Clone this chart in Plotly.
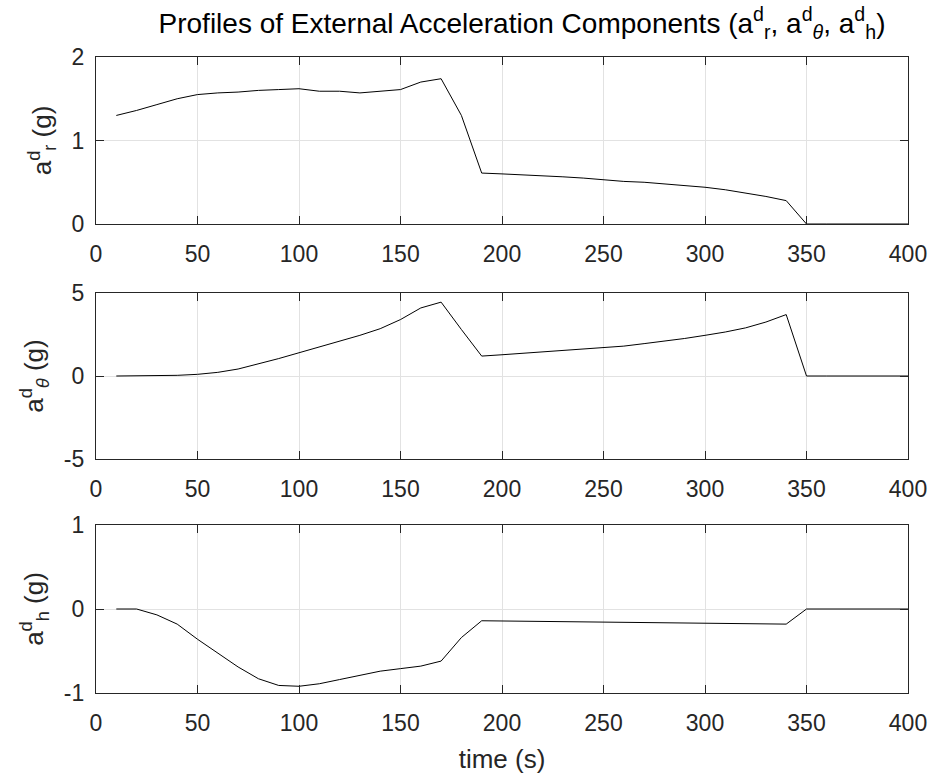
import plotly.graph_objects as go
from plotly.subplots import make_subplots

time_s = [10, 20, 30, 40, 50, 60, 70, 80, 90, 100, 110, 120, 130, 140, 150, 160, 170, 180, 190, 200,
          210, 220, 230, 240, 250, 260, 270, 280, 290, 300, 310, 320, 330, 340, 350, 360, 370, 380, 390, 400]

a_r = [1.30, 1.36, 1.43, 1.50, 1.55, 1.57, 1.58, 1.60, 1.61, 1.62, 1.59, 1.59, 1.57, 1.59, 1.61, 1.70, 1.74, 1.30, 0.61, 0.60,
       0.59, 0.58, 0.565, 0.55, 0.53, 0.51, 0.50, 0.48, 0.46, 0.44, 0.41, 0.37, 0.33, 0.28, 0.0, 0.0, 0.0, 0.0, 0.0, 0.0]

a_theta = [0.0, 0.0, 0.01, 0.04, 0.10, 0.22, 0.42, 0.72, 1.05, 1.40, 1.75, 2.10, 2.45, 2.85, 3.40, 4.10, 4.45, 2.80, 1.20, 1.28,
           1.36, 1.44, 1.52, 1.61, 1.70, 1.80, 1.95, 2.10, 2.26, 2.45, 2.65, 2.90, 3.25, 3.70, 0.0, 0.0, 0.0, 0.0, 0.0, 0.0]

a_h = [0.0, 0.0, -0.07, -0.18, -0.36, -0.53, -0.69, -0.83, -0.91, -0.92, -0.89, -0.84, -0.79, -0.74, -0.71, -0.68, -0.62, -0.34, -0.14, -0.143,
       -0.146, -0.149, -0.152, -0.155, -0.157, -0.159, -0.161, -0.163, -0.165, -0.167, -0.170, -0.173, -0.177, -0.18, 0.0, 0.0, 0.0, 0.0, 0.0, 0.0]

x_ticks = [0, 50, 100, 150, 200, 250, 300, 350, 400]
y_ranges = [[0, 2], [-5, 5], [-1, 1]]
y_ticks = [[0, 1, 2], [-5, 0, 5], [-1, 0, 1]]
y_ticktext = [["0", "1", "2"], ["-5", "0", "5"], ["-1", "0", "1"]]
y_titles = ["a<sup>d</sup><sub>r</sub> (g)", "a<sup>d</sup><sub><i>θ</i></sub> (g)", "a<sup>d</sup><sub>h</sub> (g)"]
title_text = ("Profiles of External Acceleration Components (a<sup>d</sup><sub>r</sub>, "
              "a<sup>d</sup><sub><i>θ</i></sub>, a<sup>d</sup><sub>h</sub>)")

FONT = "Liberation Sans, Arial, sans-serif"
TXT = "#262626"

fig = make_subplots(rows=3, cols=1)
for i, ys in enumerate([a_r, a_theta, a_h]):
    fig.add_trace(go.Scatter(x=time_s, y=ys, mode="lines", line=dict(color="black", width=1),
                             showlegend=False, hoverinfo="skip"), row=i + 1, col=1)

W, H = 930, 778
ML, MR, MT, MB = 96, 22, 57, 85
H_AREA = float(H - MT - MB)  # 636
bot = H - MB  # 693
doms = [((bot - 224) / H_AREA, 1.0),
        ((bot - 459) / H_AREA, (bot - 293) / H_AREA),
        (0.0, (bot - 525) / H_AREA)]

for i in range(3):
    xa = "xaxis" if i == 0 else f"xaxis{i+1}"
    ya = "yaxis" if i == 0 else f"yaxis{i+1}"
    fig.layout[xa].update(domain=[0, 1], range=[0, 400], tickvals=x_ticks,
                          showline=True, linecolor=TXT, linewidth=1.3, mirror="ticks",
                          ticks="inside", ticklen=8, tickwidth=1.3, tickcolor=TXT,
                          showgrid=True, gridcolor="#e2e2e2", gridwidth=1, zeroline=False,
                          ticklabelstandoff=9,
                          tickfont=dict(family=FONT, size=23, color=TXT))
    fig.layout[ya].update(domain=list(doms[i]), range=y_ranges[i],
                          tickvals=y_ticks[i], ticktext=y_ticktext[i],
                          showline=True, linecolor=TXT, linewidth=1.3, mirror="ticks",
                          ticks="inside", ticklen=8, tickwidth=1.3, tickcolor=TXT,
                          showgrid=True, gridcolor="#e2e2e2", gridwidth=1, zeroline=False,
                          ticklabelstandoff=6,
                          tickfont=dict(family=FONT, size=23, color=TXT),
                          title=dict(text=y_titles[i], font=dict(family=FONT, size=26, color=TXT), standoff=12))

fig.layout["xaxis3"].update(title=dict(text="time (s)", font=dict(family=FONT, size=26, color=TXT), standoff=15))

fig.update_layout(
    width=W, height=H,
    margin=dict(l=ML, r=MR, t=MT, b=MB, autoexpand=False),
    paper_bgcolor="white", plot_bgcolor="white",
    hovermode=False,
    title=dict(text=title_text,
               x=522 / W, xanchor="center", xref="container",
               y=1 - 23 / H, yanchor="middle", yref="container",
               font=dict(family=FONT, size=28, color="black")),
)

fig.write_html("out.html",
               config={"displayModeBar": False},
               post_script="document.body.style.margin='0';document.body.style.overflow='hidden';")
